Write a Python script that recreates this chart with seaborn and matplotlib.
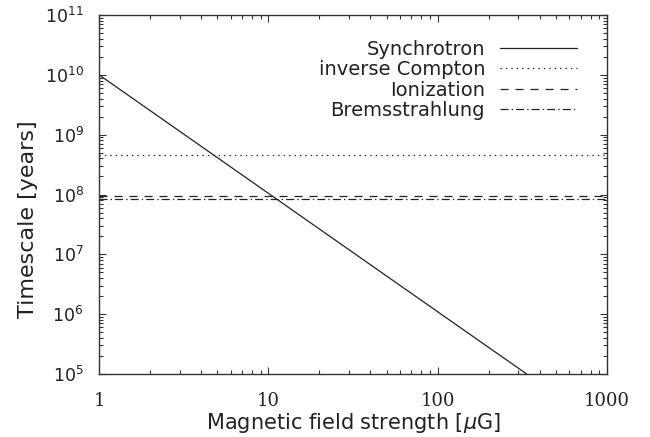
import numpy as np
import pandas as pd
import matplotlib
matplotlib.use("Agg")
import matplotlib.pyplot as plt
from matplotlib.ticker import FixedLocator, FixedFormatter, NullFormatter
import seaborn as sns

# Magnetic field range [muG]
field = [1, 1000]

# Energy-loss timescales [years] at the ends of the field range
t_synchrotron = [1e10, 1.15e4]
t_inverse_compton = [4.5e8, 4.5e8]
t_ionization = [9.6e7, 9.6e7]
t_bremsstrahlung = [8.4e7, 8.4e7]

labels = ["Synchrotron", "inverse Compton", "Ionization", "Bremsstrahlung"]
series = [t_synchrotron, t_inverse_compton, t_ionization, t_bremsstrahlung]
styles = ["-", (0, (1, 2.9)), (0, (5.8, 5.0)), (0, (5.8, 2.2, 1.0, 2.2))]

# Axis ticks
x_ticks = [1, 10, 100, 1000]
x_ticklabels = ["1", "10", "100", "1000"]
y_exponents = [5, 6, 7, 8, 9, 10, 11]

sns.set_style("ticks")
plt.rcParams["font.family"] = ["DejaVu Sans"]
plt.rcParams["mathtext.fontset"] = "dejavusans"
plt.rcParams["lines.scale_dashes"] = False

fig = plt.figure(figsize=(6.5, 4.37), dpi=100)
ax = fig.add_axes([99 / 650, 1 - 374 / 437, (607 - 99) / 650, (374 - 15) / 437])

ink = "#222222"
for lab, vals, ls in zip(labels, series, styles):
    df = pd.DataFrame({"B": field, "t": vals})
    sns.lineplot(data=df, x="B", y="t", ax=ax, color=ink, linewidth=0.9,
                 linestyle=ls, label=lab)

ax.set_xscale("log")
ax.set_yscale("log")
ax.set_xlim(1, 1000)
ax.set_ylim(1e5, 1e11)

for side in ax.spines.values():
    side.set_color("#333333")
    side.set_linewidth(1.0)

# Major ticks at decades, minor ticks at 2..9 inside each decade
x_minor = [m * d for d in x_ticks[:-1] for m in range(2, 10)]
y_major = [10.0 ** e for e in y_exponents]
y_minor = [m * 10.0 ** e for e in y_exponents[:-1] for m in range(2, 10)]

ax.xaxis.set_major_locator(FixedLocator(x_ticks))
ax.xaxis.set_major_formatter(FixedFormatter(x_ticklabels))
ax.xaxis.set_minor_locator(FixedLocator(x_minor))
ax.xaxis.set_minor_formatter(NullFormatter())
ax.yaxis.set_major_locator(FixedLocator(y_major))
ax.yaxis.set_major_formatter(FixedFormatter([r"$10^{%d}$" % e for e in y_exponents]))
ax.yaxis.set_minor_locator(FixedLocator(y_minor))
ax.yaxis.set_minor_formatter(NullFormatter())

ax.tick_params(which="both", direction="in", top=True, right=True,
               color="#333333", width=0.8)
ax.tick_params(which="major", length=5.2)
ax.tick_params(which="minor", length=3.0)
ax.tick_params(axis="x", which="major", pad=13, labelsize=13, labelcolor=ink)
ax.tick_params(axis="y", which="major", pad=11, labelsize=12.5, labelcolor=ink)
for t in ax.get_xticklabels():
    t.set_family("DejaVu Serif")

ax.set_xlabel(r"Magnetic field strength [$\mu$G]", fontsize=15, color=ink, labelpad=1)
ax.set_ylabel("Timescale [years]", fontsize=16, color=ink)
ax.yaxis.set_label_coords(-0.12, 0.43)

leg = ax.legend(loc="upper right", bbox_to_anchor=(577 / 650, 1 - 40 / 437),
                bbox_transform=fig.transFigure, frameon=False, markerfirst=False,
                fontsize=14, handlelength=3.96, handletextpad=0.77,
                labelspacing=0.065, borderpad=0, borderaxespad=0)
for t in leg.get_texts():
    t.set_color(ink)

fig.savefig("out.png", dpi=100)
